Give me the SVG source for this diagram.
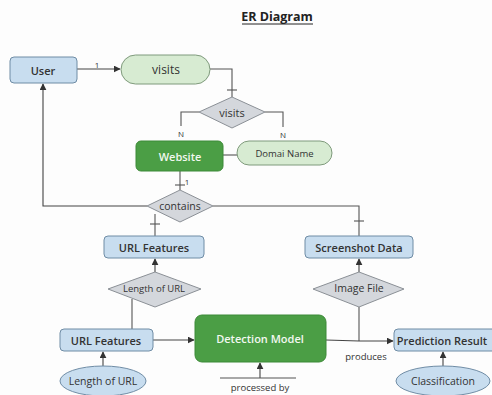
<svg xmlns="http://www.w3.org/2000/svg" width="492" height="395" viewBox="0 0 492 395">
<defs>
<marker id="ah" viewBox="0 0 10 10" refX="9" refY="5" markerWidth="7" markerHeight="7" markerUnits="userSpaceOnUse" orient="auto"><path d="M0,0 L10,5 L0,10 z" fill="#333"/></marker>
<style>
.ent{fill:#c8ddef;stroke:#6f8ca5;stroke-width:1}
.dk{fill:#4b9e45;stroke:#3d8a38;stroke-width:1}
.pill{fill:#d7ebd2;stroke:#7f9a7c;stroke-width:1}
.dia{fill:#d4d7dc;stroke:#8b9096;stroke-width:1}
.ell{fill:#c8ddef;stroke:#6f8ca5;stroke-width:1}
.ln{fill:none;stroke:#555;stroke-width:1.1}
.arr{fill:none;stroke:#444;stroke-width:1.1;marker-end:url(#ah)}
text{font-family:"Open Sans","Noto Sans",sans-serif;fill:#333;text-anchor:middle;dominant-baseline:central}
.lb{font-size:11px;font-weight:600}
.wt{fill:#f2f8f0}
.sm{font-size:9.5px}
.card{font-size:8px}
</style>
</defs>
<rect width="492" height="395" fill="#fdfdfd"/>
<text x="277" y="16" style="font-size:12.5px;font-weight:700;fill:#222">ER Diagram</text>
<line x1="242" y1="24" x2="313" y2="24" stroke="#222" stroke-width="1"/>

<g id="connectors">
<line class="arr" x1="77" y1="69" x2="120" y2="69"/>
<text class="card" x="97" y="64">1</text>
<polyline class="ln" points="210,69 232,69 232,97"/>
<line class="ln" x1="227" y1="90" x2="237" y2="90"/>
<polyline class="ln" points="199,112 181,112 181,126"/>
<text class="card" x="181" y="133">N</text>
<polyline class="ln" points="265,112 283,112 283,127"/>
<text class="card" x="283" y="134">N</text>
<line class="ln" x1="223" y1="155" x2="237" y2="155"/>
<line class="ln" x1="180" y1="171" x2="180" y2="190"/>
<line class="ln" x1="175" y1="185" x2="185" y2="185"/>
<text class="card" x="187" y="181">1</text>
<polyline class="arr" points="147,206 43,206 43,84"/>
<polyline class="ln" points="213,206 359,206 359,236"/>
<line class="ln" x1="354" y1="221" x2="364" y2="221"/>
<line class="ln" x1="155" y1="214" x2="155" y2="236"/>
<line class="ln" x1="150" y1="224" x2="160" y2="224"/>
<line class="arr" x1="155" y1="272" x2="155" y2="259"/>
<line class="ln" x1="132" y1="299" x2="132" y2="329"/>
<line class="arr" x1="153" y1="340" x2="194" y2="340"/>
<line class="arr" x1="103" y1="366" x2="103" y2="352"/>
<line class="arr" x1="359" y1="272" x2="359" y2="259"/>
<line class="ln" x1="359" y1="307" x2="359" y2="341"/>
<polyline class="arr" points="326,340 359,341 393,341"/>
<text class="sm" x="366" y="356">produces</text>
<line class="arr" x1="260" y1="378" x2="260" y2="363"/>
<line class="ln" x1="220" y1="378" x2="296" y2="378"/>
<text class="sm" x="260" y="387">processed by</text>
<line class="arr" x1="443" y1="366" x2="443" y2="352"/>
</g>

<g id="user"><rect class="ent" x="10" y="57" width="67" height="26" rx="4"/><text class="lb" x="43" y="70">User</text></g>
<g id="visits-attr"><rect class="pill" x="121" y="55" width="89" height="29" rx="14.5"/><text class="lb" x="166" y="69.5" style="font-weight:500;font-size:12px">visits</text></g>
<g id="visits-rel"><polygon class="dia" points="232,97 265,112 232,128 199,112"/><text class="lb" x="232" y="112" style="font-weight:500">visits</text></g>
<g id="website"><rect class="dk" x="136" y="141" width="87" height="30" rx="5"/><text class="lb wt" x="180" y="156">Website</text></g>
<g id="domain-name"><rect class="pill" x="237" y="141" width="95" height="24" rx="12"/><text class="sm" x="284.5" y="153">Domai Name</text></g>
<g id="contains"><polygon class="dia" points="180,190 213,206 180,222 147,206"/><text class="lb" x="180" y="206" style="font-weight:500;font-size:10.5px">contains</text></g>
<g id="url-features-top"><rect class="ent" x="104" y="236" width="100" height="22" rx="4"/><text class="lb" x="154" y="247">URL Features</text></g>
<g id="screenshot-data"><rect class="ent" x="305" y="236" width="108" height="22" rx="4"/><text class="lb" x="359" y="247">Screenshot Data</text></g>
<g id="length-rel"><polygon class="dia" points="155,272 201,289 155,307 108,289"/><text class="sm" x="154" y="288">Length of URL</text></g>
<g id="image-file"><polygon class="dia" points="359,272 404,289 359,307 313,289"/><text class="lb" x="359" y="288" style="font-weight:500;font-size:10.5px">Image File</text></g>
<g id="url-features-bottom"><rect class="ent" x="60" y="329" width="93" height="22" rx="4"/><text class="lb" x="106" y="340">URL Features</text></g>
<g id="detection-model"><rect class="dk" x="195" y="315" width="131" height="47" rx="7"/><text class="lb wt" x="260" y="338">Detection Model</text></g>
<g id="prediction-result"><rect class="ent" x="394" y="329" width="104" height="22" rx="4"/><text class="lb" x="442" y="340">Prediction Result</text></g>
<g id="length-of-url"><ellipse class="ell" cx="103" cy="381" rx="43" ry="15"/><text class="lb" x="103" y="381" style="font-weight:500;font-size:10.5px">Length of URL</text></g>
<g id="classification"><ellipse class="ell" cx="443" cy="381" rx="47" ry="15"/><text class="lb" x="443" y="381" style="font-weight:500;font-size:10.5px">Classification</text></g>
</svg>
